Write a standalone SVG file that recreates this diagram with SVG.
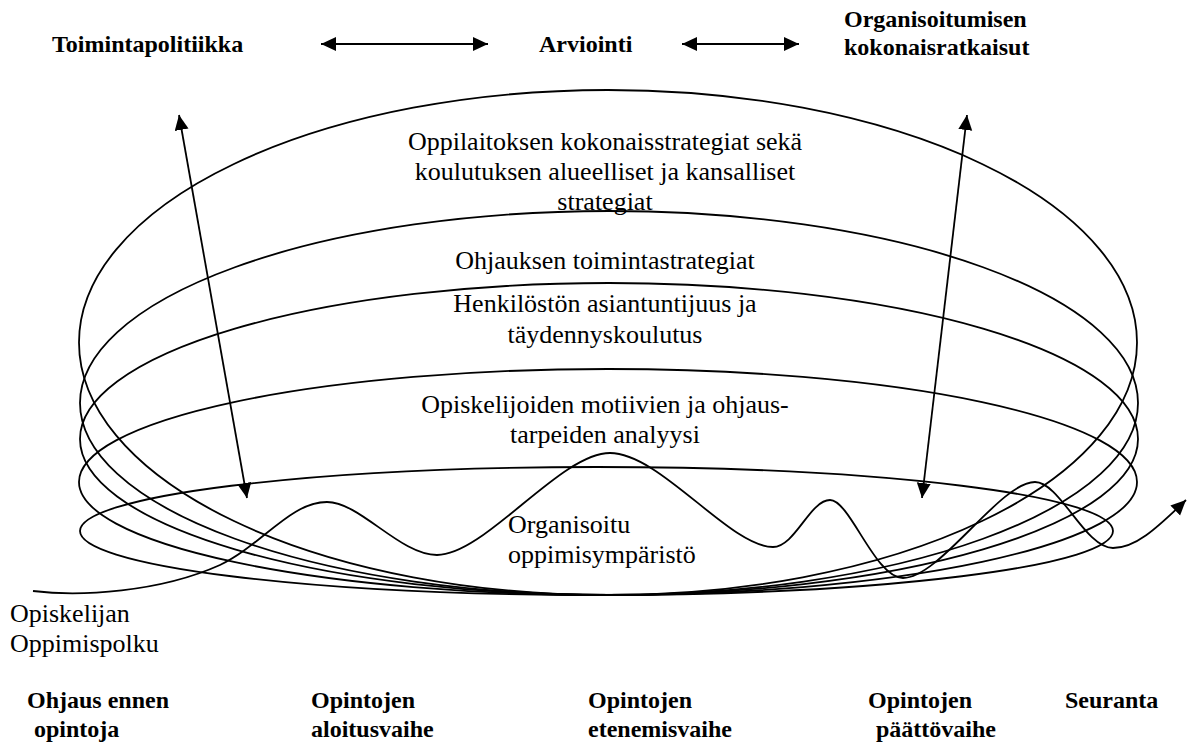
<svg xmlns="http://www.w3.org/2000/svg" width="1189" height="747" viewBox="0 0 1189 747">
<style>
.t{font-family:"Liberation Serif","Times New Roman",serif;font-size:26px;fill:#000}
.b{font-family:"Liberation Serif","Times New Roman",serif;font-size:24px;font-weight:bold;fill:#000}
.bb{font-family:"Liberation Serif","Times New Roman",serif;font-size:24px;font-weight:bold;fill:#000}
.e{fill:none;stroke:#000;stroke-width:1.8}
.c{fill:none;stroke:#000;stroke-width:1.8}
</style>
<defs>
<marker id="ah" markerUnits="userSpaceOnUse" markerWidth="16" markerHeight="15" refX="15" refY="7" orient="auto-start-reverse" viewBox="0 0 16 15">
<path d="M0,0 L15,7 L0,14 z" fill="#000"/>
</marker>
</defs>
<rect width="1189" height="747" fill="#fff"/>
<g id="ring1"><ellipse class="e" cx="608" cy="342.5" rx="529" ry="252.5"/>
<text class="t" x="605" y="150" text-anchor="middle">Oppilaitoksen kokonaisstrategiat sekä</text>
<text class="t" x="605" y="180" text-anchor="middle">koulutuksen alueelliset ja kansalliset</text>
<text class="t" x="605" y="210" text-anchor="middle">strategiat</text></g>
<g id="ring2"><ellipse class="e" cx="609" cy="403" rx="529" ry="192"/>
<text class="t" x="605" y="269" text-anchor="middle">Ohjauksen toimintastrategiat</text></g>
<g id="ring3"><ellipse class="e" cx="609" cy="439" rx="529" ry="156"/>
<text class="t" x="605" y="312" text-anchor="middle">Henkilöstön asiantuntijuus ja</text>
<text class="t" x="605" y="343" text-anchor="middle">täydennyskoulutus</text></g>
<g id="ring4"><ellipse class="e" cx="608" cy="482" rx="529" ry="113"/>
<text class="t" x="605" y="413" text-anchor="middle">Opiskelijoiden motiivien ja ohjaus-</text>
<text class="t" x="605" y="443" text-anchor="middle">tarpeiden analyysi</text></g>
<g id="ring5"><ellipse class="e" cx="596.5" cy="531" rx="516.5" ry="64"/>
<text class="t" x="508" y="533">Organisoitu</text>
<text class="t" x="508" y="563">oppimisympäristö</text></g>
<g id="toimintapolitiikka"><text class="b" x="52" y="52">Toimintapolitiikka</text></g>
<g id="arviointi"><text class="b" x="539" y="52">Arviointi</text></g>
<g id="organisoitumisen"><text class="b" x="844" y="27">Organisoitumisen</text>
<text class="b" x="844" y="55">kokonaisratkaisut</text></g>
<g id="oppimispolku"><text class="t" x="10" y="622">Opiskelijan</text>
<text class="t" x="10" y="652">Oppimispolku</text></g>
<g id="vaihe1"><text class="bb" x="27" y="708">Ohjaus ennen</text><text class="bb" x="34" y="737">opintoja</text></g>
<g id="vaihe2"><text class="bb" x="311" y="708">Opintojen</text><text class="bb" x="311" y="737">aloitusvaihe</text></g>
<g id="vaihe3"><text class="bb" x="588" y="708">Opintojen</text><text class="bb" x="588" y="737">etenemisvaihe</text></g>
<g id="vaihe4"><text class="bb" x="868" y="708">Opintojen</text><text class="bb" x="876" y="737">päättövaihe</text></g>
<g id="seuranta"><text class="bb" x="1065" y="708">Seuranta</text></g>
<g id="connectors">
<line class="c" x1="321" y1="44" x2="488" y2="44" marker-start="url(#ah)" marker-end="url(#ah)"/>
<line class="c" x1="682" y1="44" x2="799" y2="44" marker-start="url(#ah)" marker-end="url(#ah)"/>
<line class="c" x1="179" y1="115" x2="247" y2="498" marker-start="url(#ah)" marker-end="url(#ah)"/>
<line class="c" x1="967" y1="115" x2="922" y2="498" marker-start="url(#ah)" marker-end="url(#ah)"/>
<path class="c" d="M33,591 C80,597 160,592 220,565 C262,545 290,502 327,502 C360,502 400,555 437,555 C485,555 560,453 610,453 C660,453 730,547 773,547 C795,547 810,500 830,500 C850,500 875,578 903,578 C940,578 1000,482 1035,482 C1060,482 1085,548 1113,548 C1135,548 1155,530 1186,500" marker-end="url(#ah)"/>
</g>
</svg>
